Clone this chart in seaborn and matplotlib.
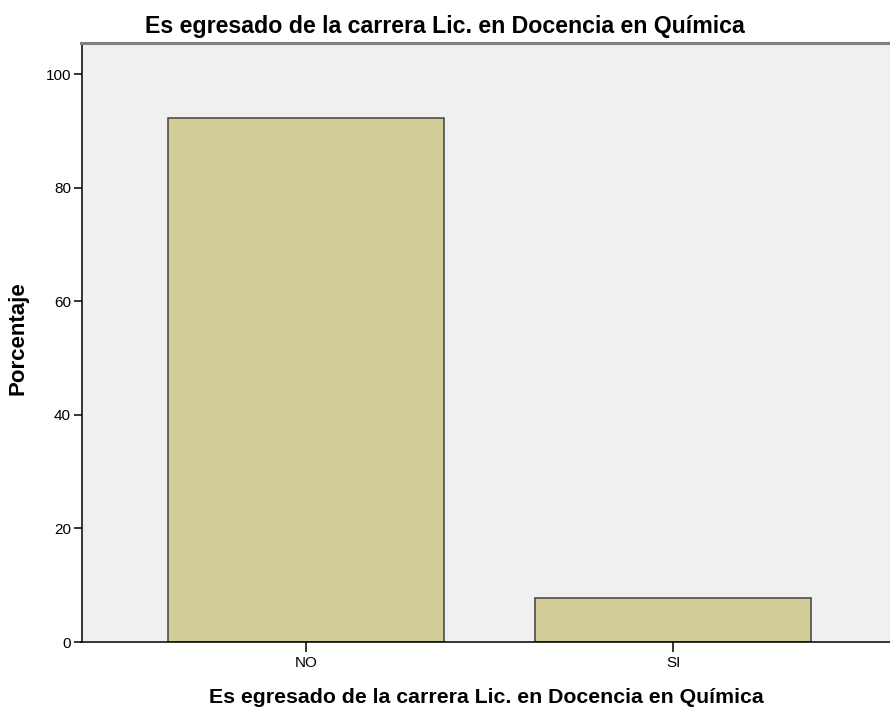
import matplotlib
matplotlib.use("Agg")
import matplotlib.pyplot as plt
import seaborn as sns
import pandas as pd

# Datos
categorias = ["NO", "SI"]
porcentajes = [92.3, 7.7]
yticks = [0, 20, 40, 60, 80, 100]

titulo = "Es egresado de la carrera Lic. en Docencia en Química"
etiqueta_y = "Porcentaje"

sns.set_style("white")
plt.rcParams['font.family'] = ['Liberation Sans', 'DejaVu Sans']
plt.rcParams['text.color'] = 'black'
plt.rcParams['xtick.color'] = 'black'
plt.rcParams['ytick.color'] = 'black'

df = pd.DataFrame({"cat": categorias, "pct": porcentajes})

fig = plt.figure(figsize=(8.9, 7.1), dpi=100)
ax = fig.add_axes([81.5 / 890, 68 / 710, 1 - 81.5 / 890, (642 - 43) / 710])
ax.set_facecolor("#F0F0F0")

sns.barplot(data=df, x="cat", y="pct", ax=ax, color="#D3CE97",
            edgecolor="#404040", linewidth=1.1, width=0.752, saturation=1)

ax.set_xlim(-0.613, 1.591)
ax.set_ylim(0, 105.5)
ax.set_yticks(yticks)

for s in ["left", "bottom"]:
    ax.spines[s].set_color("black")
    ax.spines[s].set_linewidth(1.1)
ax.spines["top"].set_color("#808080")
ax.spines["top"].set_linewidth(2.2)
ax.spines["right"].set_visible(False)

ax.tick_params(axis="y", direction="out", length=6, width=1.1, color="black",
               labelcolor="black", labelsize=11, pad=1.5, left=True)
ax.tick_params(axis="x", direction="out", length=7, width=1.1, color="black",
               labelcolor="black", labelsize=11, pad=3, bottom=True)
ax.set_xlabel("")
ax.set_ylabel("")

# Textos
fig.text(0.5, 1 - 33 / 710, titulo, ha="center", va="baseline",
         fontsize=16.7, fontweight="bold", color="black")
fig.text(486 / 890, 1 - 703 / 710, titulo, ha="center", va="baseline",
         fontsize=15.3, fontweight="bold", color="black")
fig.text(18 / 890, 1 - 338 / 710, etiqueta_y, ha="center", va="center",
         rotation=90, fontsize=16, fontweight="bold", color="black")

fig.savefig("out.png", dpi=100)
